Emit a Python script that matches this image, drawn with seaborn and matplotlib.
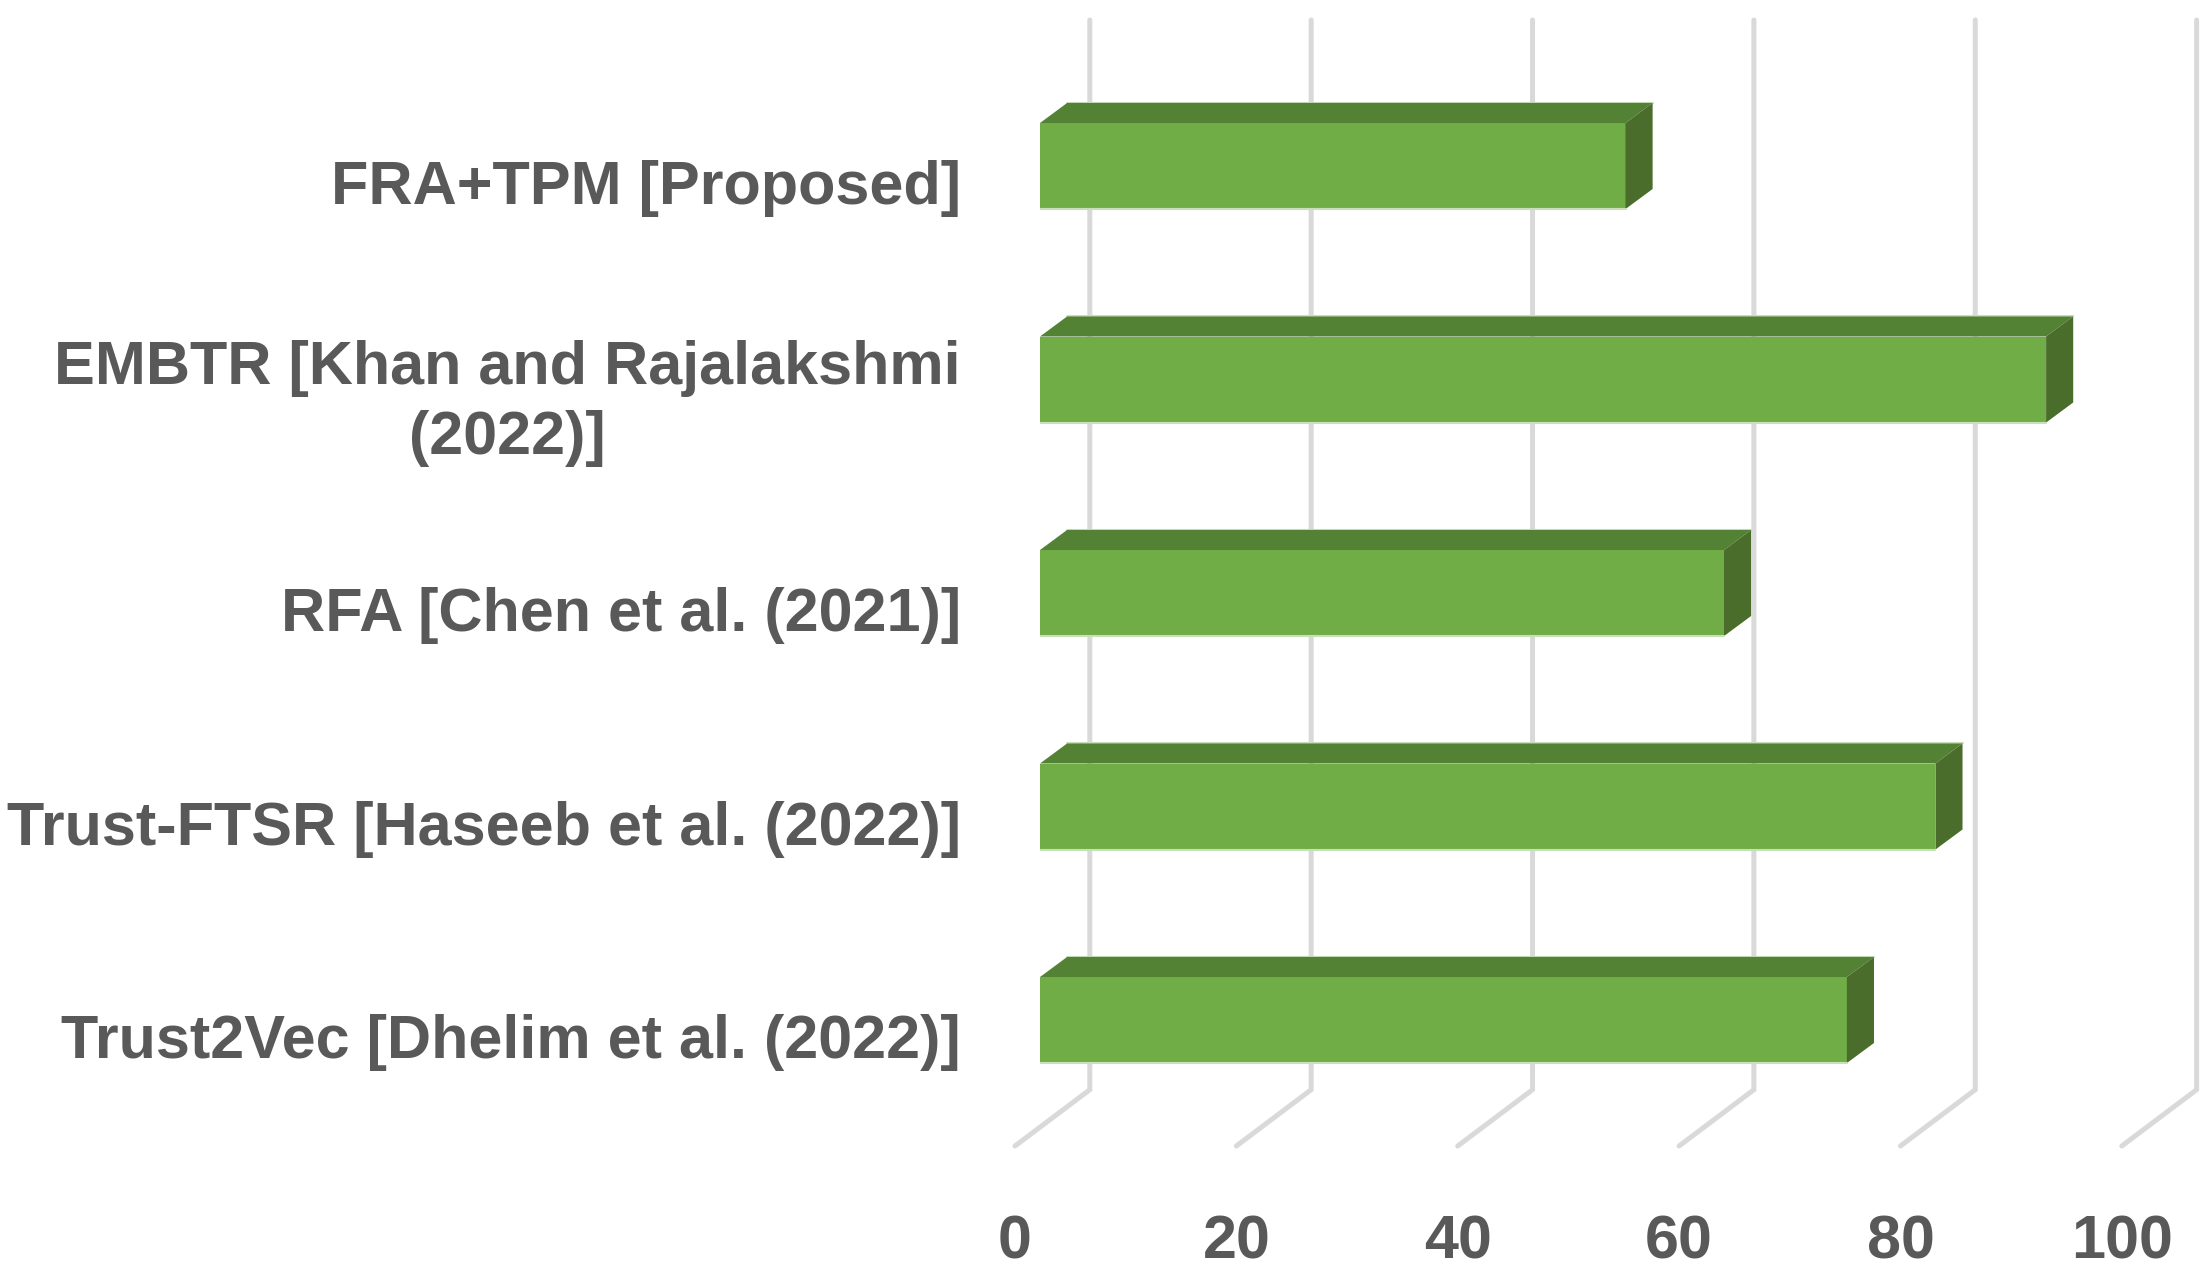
import matplotlib
matplotlib.use("Agg")
import matplotlib.pyplot as plt
from matplotlib.transforms import ScaledTranslation
import pandas as pd
import seaborn as sns

methods = [
    "FRA+TPM [Proposed]",
    "EMBTR [Khan and Rajalakshmi\n(2022)]",
    "RFA [Chen et al. (2021)]",
    "Trust-FTSR [Haseeb et al. (2022)]",
    "Trust2Vec [Dhelim et al. (2022)]",
]
scores = [52.9, 90.9, 61.8, 80.9, 72.9]
x_ticks = [0, 20, 40, 60, 80, 100]

FRONT = "#70AD47"
TOP = "#548235"
SIDE = "#4A6D2B"
GRID = "#D9D9D9"
TEXT = "#595959"

# fake 3D depth, in data units
DEPTH_X = 2.45
DEPTH_Y = 0.094


def main():
    sns.set_theme(style="white")
    plt.rcParams["font.family"] = ["Liberation Sans", "DejaVu Sans"]

    df = pd.DataFrame({"method": methods, "score": scores})

    fig = plt.figure(figsize=(22.11, 12.72), dpi=100)
    ax = fig.add_axes([1040 / 2211, (1272 - 1146) / 1272, (2211 - 1040) / 2211, (1146 - 20) / 1272])

    sns.barplot(data=df, x="score", y="method", orient="h", color=FRONT,
                saturation=1, width=0.403, linewidth=0, ax=ax, zorder=3)

    ax.set_xlim(0, 105.8)
    ax.set_ylim(4.59, -0.684)
    ax.set_xlabel("")
    ax.set_ylabel("")
    sns.despine(ax=ax, left=True, bottom=True)

    # back wall gridlines and the slanted bit on the floor
    trans = ax.get_xaxis_transform()
    for t in x_ticks:
        ax.plot([t - 2.26, t + 4.5, t + 4.5], [0, 0.05, 1], color=GRID, lw=3.6,
                transform=trans, clip_on=False, zorder=1, solid_joinstyle="miter")

    # top and side faces of each bar
    for bar in ax.patches:
        x0 = bar.get_x()
        x1 = x0 + bar.get_width()
        y0 = bar.get_y()
        y1 = y0 + bar.get_height()
        ax.fill([x0, x0 + DEPTH_X, x1 + DEPTH_X, x1], [y0, y0 - DEPTH_Y, y0 - DEPTH_Y, y0],
                color=TOP, lw=0, zorder=3)
        ax.fill([x1, x1 + DEPTH_X, x1 + DEPTH_X, x1], [y0, y0 - DEPTH_Y, y1 - DEPTH_Y, y1],
                color=SIDE, lw=0, zorder=3)
        ax.plot([x0, x1], [y1, y1], color="#C9DFBA", lw=1.5, zorder=3.5)
        ax.plot([x0 + DEPTH_X, x1 + DEPTH_X], [y0 - DEPTH_Y] * 2, color="#C9DFBA", lw=1.5, zorder=2.5)

    ax.set_xticks(x_ticks)
    ax.tick_params(axis="x", length=0, pad=49, labelsize=44, labelcolor=TEXT)
    ax.tick_params(axis="y", length=0, pad=57, labelsize=44, labelcolor=TEXT)

    for lab in ax.get_xticklabels():
        lab.set_fontweight("bold")
        lab.set_transform(lab.get_transform() + ScaledTranslation(-25 / 100, 0, fig.dpi_scale_trans))
    for lab in ax.get_yticklabels():
        lab.set_fontweight("bold")
        lab.set_multialignment("center")
        lab.set_linespacing(1.29)
        # the two-line label sits a bit higher than the others
        shift = -11 if "\n" in lab.get_text() else -16
        lab.set_transform(lab.get_transform() + ScaledTranslation(0, shift / 100, fig.dpi_scale_trans))

    fig.savefig("out.png", dpi=100)


if __name__ == "__main__":
    main()
